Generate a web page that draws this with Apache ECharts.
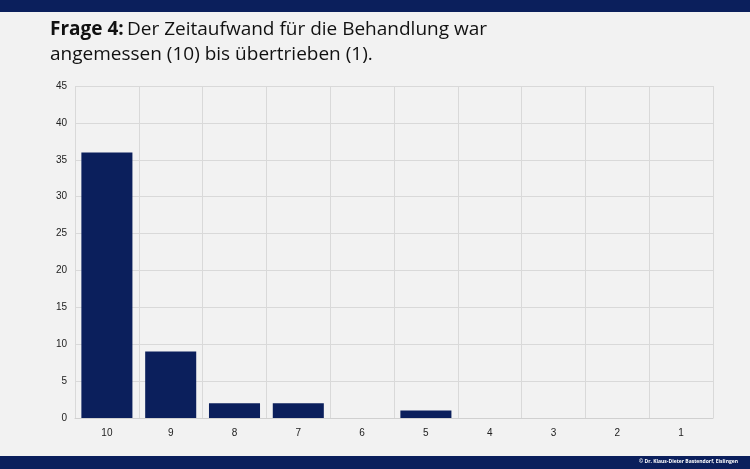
<!DOCTYPE html>
<html>
<head>
<meta charset="utf-8">
<script src="https://cdn.jsdelivr.net/npm/echarts@6/dist/echarts.min.js"></script>
<style>
html,body{margin:0;padding:0;background:#f2f2f2;}
#chart{width:750px;height:469px;}
</style>
</head>
<body>
<div id="chart"></div>
<script>
var categories = ['10', '9', '8', '7', '6', '5', '4', '3', '2', '1'];
var values = [36, 9, 2, 2, 0, 1, 0, 0, 0, 0];

var myChart = echarts.init(document.getElementById('chart'));
var option = {
    backgroundColor: '#f2f2f2',
    animation: false,
    graphic: [
        {type: 'rect', shape: {x: 0, y: 0, width: 750, height: 12}, style: {fill: '#0b1f5c'}},
        {type: 'rect', shape: {x: 0, y: 456, width: 750, height: 13}, style: {fill: '#0b1f5c'}},
        {type: 'text', left: 50, top: 20, style: {
            rich: {b: {fontWeight: 'bold', fontSize: 19, fill: '#111', fontFamily: 'Open Sans'},
                   n: {fontSize: 19, fill: '#111', fontFamily: 'Open Sans', lineHeight: 25}},
            text: '{b|Frage 4:} {n|Der Zeitaufwand für die Behandlung war}\n{n|angemessen (10) bis übertrieben (1).}'
        }},
        {type: 'text', right: 12, top: 459, style: {text: '© Dr. Klaus-Dieter Bastendorf, Eislingen', fill: '#fff', fontSize: 5, fontWeight: 'bold', fontFamily: 'Open Sans'}}
    ],
    grid: {left: 75, right: 37, top: 86, bottom: 51},
    xAxis: {
        type: 'category',
        data: categories,
        axisTick: {show: false},
        axisLine: {lineStyle: {color: '#d0d0d0'}},
        axisLabel: {color: '#222', fontSize: 10, margin: 10},
        splitLine: {show: true, lineStyle: {color: '#d9d9d9'}}
    },
    yAxis: {
        type: 'value',
        min: 0, max: 45, interval: 5,
        axisLabel: {color: '#222', fontSize: 10},
        splitLine: {lineStyle: {color: '#d9d9d9'}}
    },
    series: [{
        type: 'bar',
        data: values,
        barCategoryGap: '20%',
        itemStyle: {color: '#0b1f5c'}
    }]
};
myChart.setOption(option, true);
</script>
</body>
</html>
